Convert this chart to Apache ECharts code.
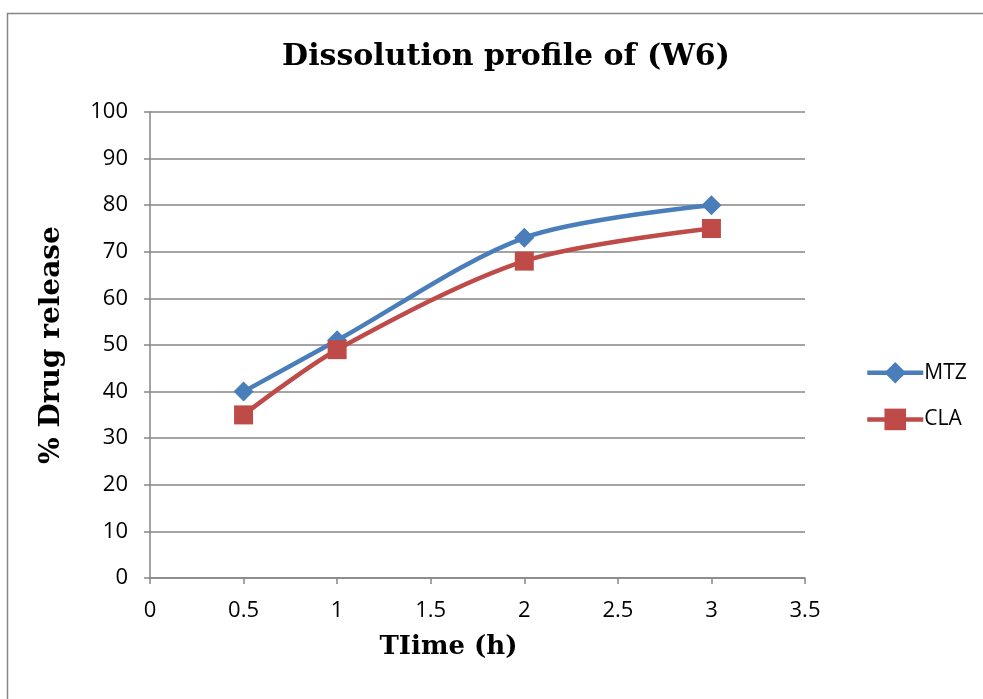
<!DOCTYPE html>
<html>
<head>
<meta charset="utf-8">
<script src="https://cdn.jsdelivr.net/npm/echarts@6/dist/echarts.min.js"></script>
<style>
  html, body { margin: 0; padding: 0; background: #fff; }
  #chart { width: 983px; height: 699px; }
</style>
</head>
<body>
<div id="chart"></div>
<script>
var timeH = [0.5, 1, 2, 3];
var mtzValues = [40, 51, 73, 80];
var claValues = [35, 49, 68, 75];
var seriesNames = ['MTZ', 'CLA'];

function pairs(xs, ys) {
  var out = [];
  for (let i = 0; i < xs.length; i++) {
    out.push([xs[i], ys[i]]);
  }
  return out;
}

var chart = echarts.init(document.getElementById('chart'));
var tickFont = { color: '#000', fontSize: 22, fontFamily: 'Open Sans' };
var axisGray = '#868686';
var serifBold = { fontFamily: 'DejaVu Serif', fontWeight: 'bold', color: '#000' };

var option = {
  animation: false,
  backgroundColor: '#fff',
  title: {
    text: 'Dissolution profile of (W6)',
    left: 501,
    top: 37,
    textAlign: 'center',
    textStyle: Object.assign({ fontSize: 30 }, serifBold)
  },
  graphic: [{
    type: 'rect',
    shape: { x: 7.5, y: 13.5, width: 1100, height: 1100 },
    style: { fill: null, stroke: axisGray, lineWidth: 1.5 },
    silent: true
  }],
  legend: {
    orient: 'vertical',
    left: 860,
    top: 357,
    itemWidth: 56,
    itemHeight: 27,
    itemGap: 25,
    lineStyle: { width: 4.5 },
    textStyle: { color: '#000', fontSize: 21, fontFamily: 'Open Sans', padding: [0, 0, 0, -4] },
    data: seriesNames
  },
  grid: { left: 150, right: 178, top: 112, bottom: 121 },
  xAxis: {
    type: 'value',
    min: 0, max: 3.5, interval: 0.5,
    name: 'TIime (h)',
    nameLocation: 'middle',
    nameGap: 56,
    nameTextStyle: Object.assign({ fontSize: 26, padding: [0, 58, 0, 0] }, serifBold),
    axisLine: { lineStyle: { color: axisGray, width: 1.5 } },
    axisTick: { show: true, length: 6, lineStyle: { color: axisGray, width: 1.5 } },
    axisLabel: Object.assign({ margin: 22 }, tickFont),
    splitLine: { show: false }
  },
  yAxis: {
    type: 'value',
    min: 0, max: 100, interval: 10,
    name: '% Drug release',
    nameLocation: 'middle',
    nameGap: 84,
    nameTextStyle: Object.assign({ fontSize: 28 }, serifBold),
    axisLine: { show: true, lineStyle: { color: axisGray, width: 1.5 } },
    axisTick: { show: true, length: 6, lineStyle: { color: axisGray, width: 1.5 } },
    axisLabel: Object.assign({ margin: 22 }, tickFont),
    splitLine: { show: true, lineStyle: { color: axisGray, width: 1.5 } }
  },
  series: [{
    name: 'MTZ',
    type: 'line',
    smooth: 0.3,
    data: pairs(timeH, mtzValues),
    symbol: 'diamond',
    symbolSize: 20,
    itemStyle: { color: '#4a7ebb' },
    lineStyle: { color: '#4a7ebb', width: 4.5 }
  }, {
    name: 'CLA',
    type: 'line',
    smooth: 0.3,
    data: pairs(timeH, claValues),
    symbol: 'rect',
    symbolSize: 19,
    itemStyle: { color: '#be4b48' },
    lineStyle: { color: '#be4b48', width: 4.5 }
  }]
};

chart.setOption(option);
</script>
</body>
</html>
